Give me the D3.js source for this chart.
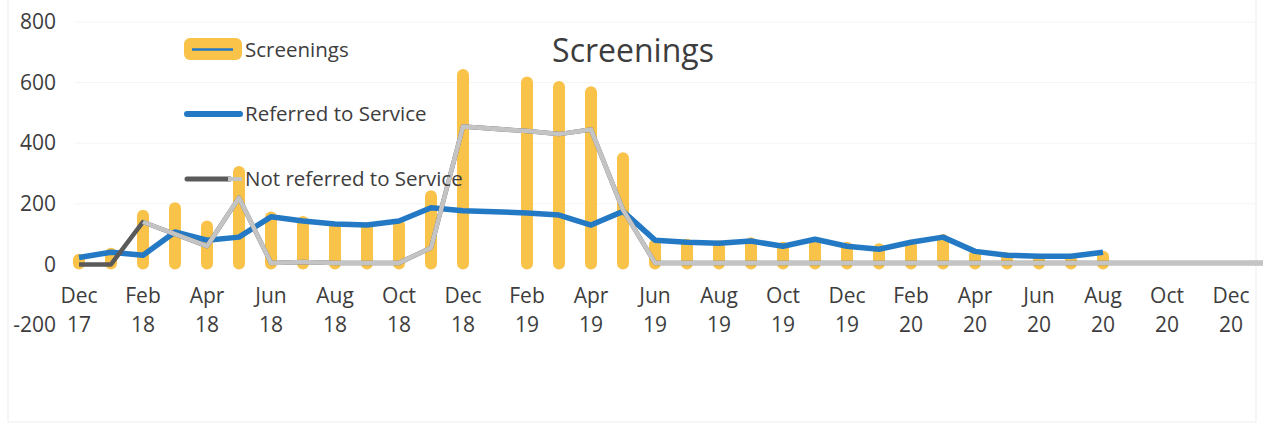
<!DOCTYPE html>
<html><head><meta charset="utf-8">
<script src="https://cdn.jsdelivr.net/npm/d3@7"></script>
<style>
body{margin:0;background:#fff;}
text{font-family:"Open Sans",sans-serif;fill:#3d3d3d;}
</style>
</head><body>
<svg id="c" width="1263" height="433"></svg>
<script>
// Months Dec 17 .. Jan 21 (index 0..37)
const months = ["Dec 17","Jan 18","Feb 18","Mar 18","Apr 18","May 18","Jun 18","Jul 18","Aug 18","Sep 18","Oct 18","Nov 18",
  "Dec 18","Jan 19","Feb 19","Mar 19","Apr 19","May 19","Jun 19","Jul 19","Aug 19","Sep 19","Oct 19","Nov 19",
  "Dec 19","Jan 20","Feb 20","Mar 20","Apr 20","May 20","Jun 20","Jul 20","Aug 20","Sep 20","Oct 20","Nov 20",
  "Dec 20","Jan 21"];
const tickLabels = ["Dec 17","Feb 18","Apr 18","Jun 18","Aug 18","Oct 18","Dec 18","Feb 19","Apr 19","Jun 19",
  "Aug 19","Oct 19","Dec 19","Feb 20","Apr 20","Jun 20","Aug 20","Oct 20","Dec 20"];
const yTicks = [-200,0,200,400,600,800];

const screenings = [35,55,180,205,145,325,175,160,140,140,150,245,
  645,null,620,605,588,370,85,85,80,90,75,90,
  75,70,80,100,50,40,35,35,45,null,null,null,null,null];
const referred = [23,40,30,107,80,90,157,143,133,130,143,187,
  177,null,170,163,130,175,80,73,70,77,60,83,
  60,50,73,90,43,30,27,27,40,null,null,null,null,null];
const notReferred = [0,0,140,100,60,220,5,8,5,5,5,55,
  455,null,440,430,445,180,5,5,5,5,5,5,
  5,5,5,5,5,5,5,5,5,5,5,5,5,5];

const legendItems = ["Screenings","Referred to Service","Not referred to Service"];
const title = "Screenings";

const C_BAR = "#f9c34a", C_BLUE = "#2479c4", C_GRAY = "#c4c4c4", C_DARK = "#5a5a5a";

const svg = d3.select("#c");
const x = d3.scaleLinear().domain([0,36]).range([79,1231]);
const y = d3.scaleLinear().domain([-200,800]).range([325,22]);

// faint frame
svg.append("rect").attr("x",8).attr("y",-2).attr("width",1248).attr("height",424)
  .attr("fill","none").attr("stroke","#ededed");

// faint gridlines
svg.append("g").selectAll("line").data([200,400,600,800]).join("line")
  .attr("x1",75).attr("x2",1255).attr("y1",d=>y(d)).attr("y2",d=>y(d))
  .attr("stroke","#f4f4f4");

// y axis
const ya = svg.append("g").attr("transform","translate(56,0)")
  .call(d3.axisLeft(y).tickValues(yTicks).tickSize(0).tickPadding(0).tickFormat(d=>String(d)));
ya.select(".domain").remove();
ya.selectAll("text").attr("font-size",21).attr("font-family","Open Sans").attr("fill","#3d3d3d");

// x labels (two lines)
const xl = svg.append("g").selectAll("text").data(tickLabels).join("text")
  .attr("text-anchor","middle").attr("font-size",21)
  .attr("x",d=>x(months.indexOf(d))).attr("y",303);
xl.append("tspan").text(d=>d.split(" ")[0]);
xl.append("tspan").attr("x",d=>x(months.indexOf(d))).attr("dy",29).text(d=>d.split(" ")[1]);

// bars
svg.append("g").selectAll("rect").data(screenings.map((v,i)=>({v,i})).filter(d=>d.v!=null)).join("rect")
  .attr("x",d=>x(d.i)-6).attr("width",12)
  .attr("y",d=>y(d.v)).attr("height",d=>y(0)-y(d.v)+5)
  .attr("rx",6).attr("fill",C_BAR);

const pts = arr => arr.map((v,i)=>({v,i})).filter(d=>d.v!=null);
const line = d3.line().x(d=>x(d.i)).y(d=>y(d.v));

// referred line
svg.append("path").datum(pts(referred)).attr("d",line)
  .attr("fill","none").attr("stroke",C_BLUE).attr("stroke-width",5.5).attr("stroke-linejoin","round");

// not referred line (dark under, light over from Feb 18)
svg.append("path").datum(pts(notReferred)).attr("d",line)
  .attr("fill","none").attr("stroke",C_DARK).attr("stroke-width",4.5).attr("stroke-linejoin","round");
svg.append("path").datum(pts(notReferred).filter(d=>d.i>=2)).attr("d",line)
  .attr("fill","none").attr("stroke",C_GRAY).attr("stroke-width",4.5).attr("stroke-linejoin","round");

// title
svg.append("text").attr("x",633).attr("y",62).attr("text-anchor","middle")
  .attr("font-size",32).text(title);

// legend
const lg = svg.append("g");
lg.append("rect").attr("x",184).attr("y",38).attr("width",58).attr("height",22).attr("rx",6).attr("fill",C_BAR);
lg.append("line").attr("x1",192).attr("x2",233).attr("y1",49.5).attr("y2",49.5).attr("stroke",C_BLUE).attr("stroke-width",2.5);
lg.append("line").attr("x1",187).attr("x2",240).attr("y1",114).attr("y2",114).attr("stroke",C_BLUE).attr("stroke-width",6).attr("stroke-linecap","round");
lg.append("line").attr("x1",187).attr("x2",230).attr("y1",179).attr("y2",179).attr("stroke",C_DARK).attr("stroke-width",5).attr("stroke-linecap","round");
lg.append("line").attr("x1",228).attr("x2",242).attr("y1",179).attr("y2",179).attr("stroke",C_GRAY).attr("stroke-width",4);
lg.selectAll("text").data(legendItems).join("text")
  .attr("x",245).attr("y",(d,i)=>[57,121,186][i]).attr("font-size",20.5).text(d=>d);
</script>
</body></html>
